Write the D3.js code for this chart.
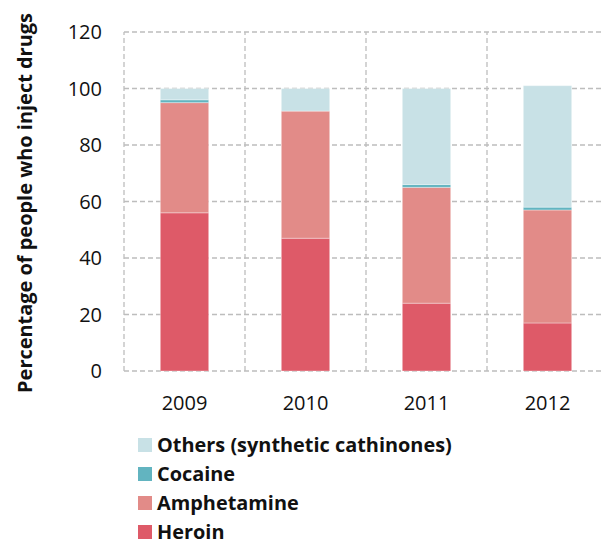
<!DOCTYPE html>
<html><head><meta charset="utf-8">
<script src="https://cdn.jsdelivr.net/npm/d3@7"></script>
<style>body{margin:0;background:#fff;} text{font-family:"Open Sans",sans-serif;}</style>
</head><body>
<svg id="c" width="604" height="547"></svg>
<script>
const years = ["2009","2010","2011","2012"];
const heroin = [56, 47, 24, 17];
const amphetamine = [39, 45, 41, 40];
const cocaine = [1, 0, 1, 1];
const others = [4, 8, 34, 43];
const yTicks = [0,20,40,60,80,100,120];
const seriesNames = ["Heroin","Amphetamine","Cocaine","Others (synthetic cathinones)"];
const colors = ["#de5a68","#e28b88","#62b4c0","#c8e1e6"];

const svg = d3.select("#c");
const m = {l:124, r:-4};
const W = 604;
const x = d3.scaleBand().domain(years).range([m.l, W - m.r]).paddingInner(0).paddingOuter(0);
const y = d3.scaleLinear().domain([0,120]).range([371, 32]);

const rows = years.map((yr,i)=>({year:yr, Heroin:heroin[i], Amphetamine:amphetamine[i], Cocaine:cocaine[i], "Others (synthetic cathinones)":others[i]}));
const stack = d3.stack().keys(seriesNames)(rows);

// grid
const g = svg.append("g");
g.selectAll("line.h").data(yTicks).join("line")
  .attr("x1", m.l).attr("x2", W - m.r).attr("y1", d=>y(d)).attr("y2", d=>y(d))
  .attr("stroke","#bdbdbd").attr("stroke-width",1.3).attr("stroke-dasharray","5,3");
const vx = [m.l].concat(years.slice(1).map(d=>x(d)));
g.selectAll("line.v").data(vx).join("line")
  .attr("x1", d=>d).attr("x2", d=>d).attr("y1", y(0)).attr("y2", y(120))
  .attr("stroke","#bdbdbd").attr("stroke-width",1.3).attr("stroke-dasharray","5,3");

// bars
const bw = x.bandwidth()*0.4;
svg.append("g").selectAll("g").data(stack).join("g")
  .attr("fill",(d,i)=>colors[i])
  .selectAll("rect").data(d=>d).join("rect")
  .attr("x", d=>x(d.data.year) + (x.bandwidth()-bw)/2)
  .attr("width", bw)
  .attr("y", d=>y(d[1]))
  .attr("height", d=>Math.max(0, y(d[0]) - y(d[1])))
  .attr("stroke","rgba(255,255,255,0.35)").attr("stroke-width",1);

// y axis labels
svg.append("g").selectAll("text").data(yTicks).join("text")
  .attr("x", 102).attr("y", d=>y(d)).attr("dy","0.36em")
  .attr("text-anchor","end").attr("font-size",20).attr("fill","#111")
  .text(d=>d);

// x labels
svg.append("g").selectAll("text").data(years).join("text")
  .attr("x", d=>x(d)+x.bandwidth()/2).attr("y", 409.5)
  .attr("text-anchor","middle").attr("font-size",20).attr("fill","#111")
  .text(d=>d);

// y title
const title = svg.append("text")
  .attr("transform","translate(32,203) rotate(-90)")
  .attr("text-anchor","middle").attr("font-size",17).attr("font-weight","bold").attr("fill","#111")
  .text("Percentage of people who inject drugs");
{ const w = title.node().getComputedTextLength(); title.attr("font-size", 17*380/w); }

// legend
const legOrder = [3,2,1,0];
const leg = svg.append("g").selectAll("g").data(legOrder).join("g")
  .attr("transform",(d,i)=>`translate(138,${445 + i*29})`);
leg.append("rect").attr("x",0).attr("y",-7).attr("width",14).attr("height",14).attr("fill",d=>colors[d]);
const lt = leg.append("text").attr("x",19).attr("y",0).attr("dy","0.36em")
  .attr("font-size",18).attr("font-weight","bold").attr("fill","#111")
  .text(d=>seriesNames[d]);
{ const w = lt.filter(d=>d===3).node().getComputedTextLength(); lt.attr("font-size", 18*295/w); }
</script>
</body></html>
